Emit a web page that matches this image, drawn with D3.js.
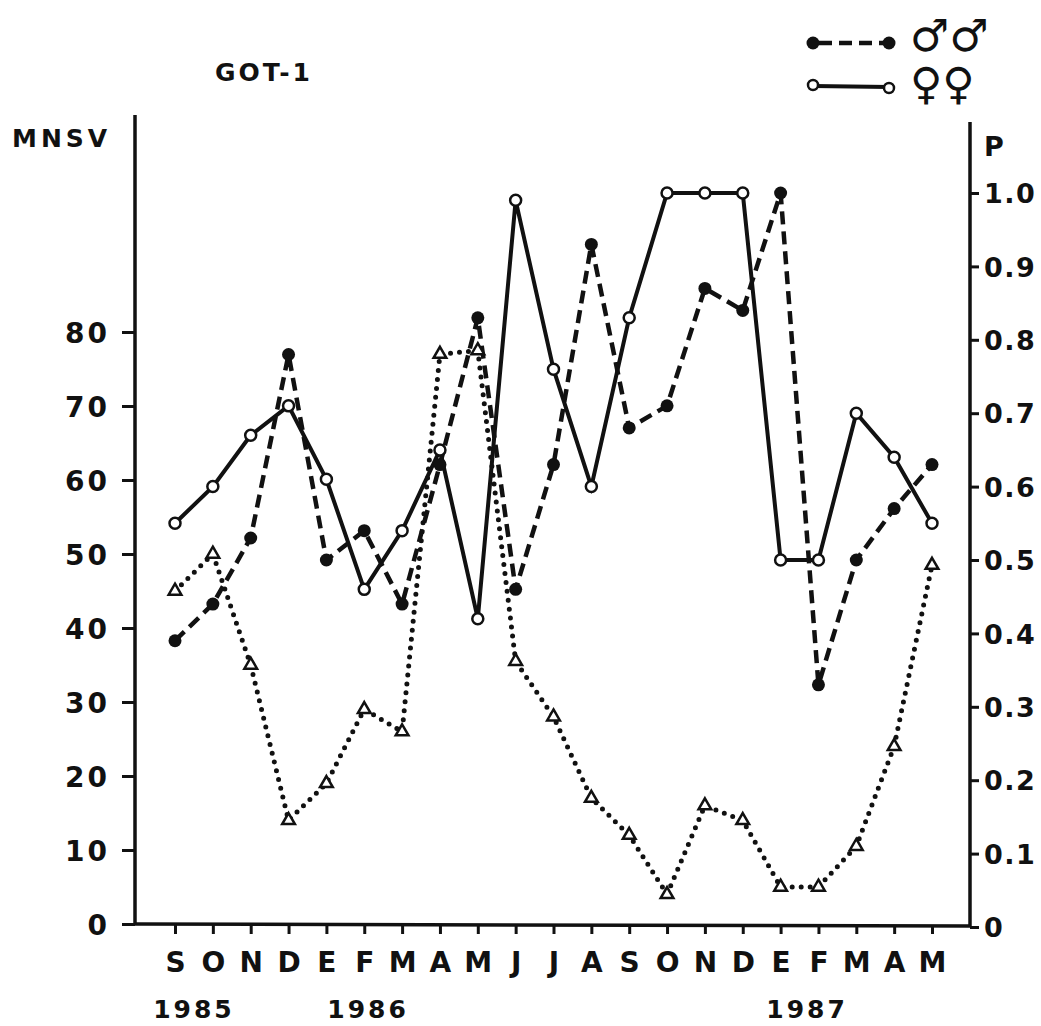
<!DOCTYPE html>
<html>
<head>
<meta charset="utf-8">
<script src="https://cdn.jsdelivr.net/npm/d3@7"></script>
<style>
  body { margin: 0; background: #fff; }
  svg text { font-family: "DejaVu Sans", sans-serif; font-weight: bold; fill: #111; }
  .tick line { stroke: #111; stroke-width: 3; }
  .domain { display: none; }
</style>
</head>
<body>
<div id="chart"></div>
<script>
// months Sep 1985 .. May 1987
const months = ["S","O","N","D","E","F","M","A","M","J","J","A","S","O","N","D","E","F","M","A","M"];
const years = ["1985", "1986", "1987"];
const yearAt = [0.5, 5.1, 16.7];

// proportion P (right axis)
const males = [0.39,0.44,0.53,0.78,0.50,0.54,0.44,0.63,0.83,0.46,0.63,0.93,0.68,0.71,0.87,0.84,1.0,0.33,0.50,0.57,0.63];
const females = [0.55,0.60,0.67,0.71,0.61,0.46,0.54,0.65,0.42,0.99,0.76,0.60,0.83,1.0,1.0,1.0,0.50,0.50,0.70,0.64,0.55];
// MNSV (left axis)
const mnsv = [45,50,35,14,19,29,26,77,77.5,35.5,28,17,12,4,16,14,5,5,10.5,24,48.5];

const mnsvTicks = [0,10,20,30,40,50,60,70,80];
const pTicks = [0,0.1,0.2,0.3,0.4,0.5,0.6,0.7,0.8,0.9,1.0];

const [svgW, svgH] = [1041, 1026];
const INK = "#111";

const svg = d3.select("#chart").append("svg").attr("width", svgW).attr("height", svgH);

const x = d3.scaleLinear().domain([0, months.length - 1]).range([175, 932]);
const yL = d3.scaleLinear().domain([0, 80]).range([924, 332]);
const yR = d3.scaleLinear().domain([0, 1]).range([927, 193]);

function drawAxes() {
    // axis lines
    svg.append("line").attr("x1", 135).attr("x2", 135).attr("y1", 115).attr("y2", yL(0))
        .attr("stroke", INK).attr("stroke-width", 3.5);
    svg.append("line").attr("x1", 970).attr("x2", 970).attr("y1", 122).attr("y2", yR(0))
        .attr("stroke", INK).attr("stroke-width", 3.5);
    svg.append("line").attr("x1", 135).attr("x2", 970).attr("y1", 924).attr("y2", 926)
        .attr("stroke", INK).attr("stroke-width", 3.5);

    let left = svg.append("g").attr("transform", "translate(135,0)")
        .call(d3.axisLeft(yL).tickValues(mnsvTicks).tickSize(13).tickPadding(12).tickFormat(d3.format("d")));
    left.selectAll("text").style("font-size", "28px").style("letter-spacing", "3px").attr("dy", "0.36em");

    let right = svg.append("g").attr("transform", "translate(970,0)")
        .call(d3.axisRight(yR).tickValues(pTicks).tickSize(9).tickPadding(5)
            .tickFormat(d => d === 0 ? "0" : d3.format(".1f")(d)));
    right.selectAll("text").style("font-size", "27px").style("letter-spacing", "1.5px").attr("dy", "0.36em");

    let bottom = svg.append("g").attr("transform", "translate(0,925)")
        .call(d3.axisBottom(x).tickValues(d3.range(months.length)).tickSize(9).tickPadding(18)
            .tickFormat(i => months[i]));
    bottom.selectAll("text").style("font-size", "28px").attr("dy", "0.71em");

    svg.append("g").selectAll("text").data(years).enter().append("text")
        .attr("x", (d, i) => x(yearAt[i])).attr("y", 1018)
        .attr("text-anchor", "middle").style("font-size", "25px").style("letter-spacing", "3px")
        .text(d => d);

    svg.append("text").attr("x", 12).attr("y", 147).style("font-size", "25px").style("letter-spacing", "4px").text("MNSV");
    svg.append("text").attr("x", 984).attr("y", 156).style("font-size", "27px").text("P");
    svg.append("text").attr("x", 215).attr("y", 81).style("font-size", "25px").style("letter-spacing", "3px").text("GOT-1");
}

function drawSeries() {
    let lineP = d3.line().x((d, i) => x(i)).y(d => yR(d));
    let lineM = d3.line().x((d, i) => x(i)).y(d => yL(d));

    svg.append("path").datum(mnsv).attr("d", lineM).attr("fill", "none").attr("stroke", INK)
        .attr("stroke-width", 5).attr("stroke-linecap", "round").attr("stroke-dasharray", "0 9");
    svg.append("path").datum(females).attr("d", lineP).attr("fill", "none").attr("stroke", INK)
        .attr("stroke-width", 4);
    svg.append("path").datum(males).attr("d", lineP).attr("fill", "none").attr("stroke", INK)
        .attr("stroke-width", 4.5).attr("stroke-dasharray", "13 7");

    svg.append("g").selectAll("path").data(mnsv).enter().append("path")
        .attr("d", d3.symbol(d3.symbolTriangle, 70))
        .attr("transform", (d, i) => "translate(" + x(i) + "," + yL(d) + ")")
        .attr("fill", "#fff").attr("stroke", INK).attr("stroke-width", 2.5);
    svg.append("g").selectAll("circle").data(males).enter().append("circle")
        .attr("cx", (d, i) => x(i)).attr("cy", d => yR(d)).attr("r", 6.5).attr("fill", INK);
    svg.append("g").selectAll("circle").data(females).enter().append("circle")
        .attr("cx", (d, i) => x(i)).attr("cy", d => yR(d)).attr("r", 5.5)
        .attr("fill", "#fff").attr("stroke", INK).attr("stroke-width", 2.5);
}

function drawLegend() {
    let g = svg.append("g");
    g.append("line").attr("x1", 813).attr("x2", 889).attr("y1", 43).attr("y2", 43)
        .attr("stroke", INK).attr("stroke-width", 4.5).attr("stroke-dasharray", "13 7").attr("stroke-dashoffset", -6);
    g.append("circle").attr("cx", 813).attr("cy", 43).attr("r", 6.5).attr("fill", INK);
    g.append("circle").attr("cx", 889).attr("cy", 43).attr("r", 6.5).attr("fill", INK);
    g.append("line").attr("x1", 813).attr("x2", 889).attr("y1", 86).attr("y2", 87)
        .attr("stroke", INK).attr("stroke-width", 4);
    g.append("circle").attr("cx", 813).attr("cy", 85).attr("r", 5).attr("fill", "#fff").attr("stroke", INK).attr("stroke-width", 2.5);
    g.append("circle").attr("cx", 889).attr("cy", 88).attr("r", 5).attr("fill", "#fff").attr("stroke", INK).attr("stroke-width", 2.5);
    g.append("text").attr("x", 910).attr("y", 51).style("font-size", "44px").style("font-weight", "normal").text("\u2642\u2642");
    g.append("text").attr("x", 910).attr("y", 99).style("font-size", "44px").style("font-weight", "normal").text("\u2640\u2640");
}

drawAxes();
drawSeries();
drawLegend();
</script>
</body>
</html>
